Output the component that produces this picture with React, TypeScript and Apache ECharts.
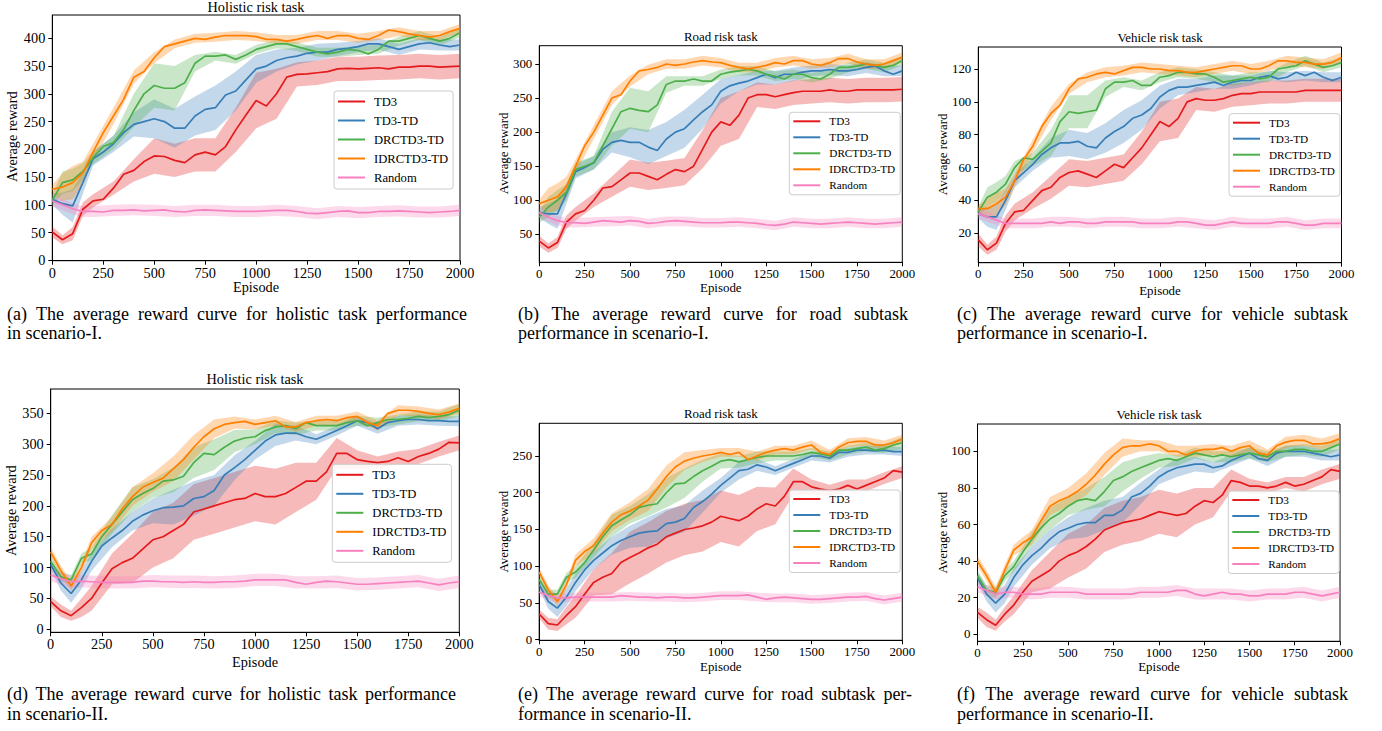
import React, { useEffect, useRef } from "react";
import * as echarts from "echarts";

const FONT = "'Liberation Serif', 'Times New Roman', serif";

const SERIES_NAMES = ["TD3", "TD3-TD", "DRCTD3-TD", "IDRCTD3-TD", "Random"];
const COLORS = ["#e41a1c", "#377eb8", "#4daf4a", "#ff7f00", "#f781bf"];

const EPISODES = [0, 50, 100, 150, 200, 250, 300, 350, 400, 450, 500, 550, 600, 650, 700, 750, 800, 850, 900, 950, 1000, 1050, 1100, 1150, 1200, 1250, 1300, 1350, 1400, 1450, 1500, 1550, 1600, 1650, 1700, 1750, 1800, 1850, 1900, 1950, 2000];
const BAND_EPISODES = [0, 50, 100, 150, 200, 300, 400, 500, 600, 700, 800, 900, 1000, 1100, 1200, 1300, 1400, 1500, 1600, 1700, 1800, 1900, 2000];
const X_TICKS = [0, 250, 500, 750, 1000, 1250, 1500, 1750, 2000];

// ---- (a) Holistic, scenario I
const A_Y_TICKS = [0, 50, 100, 150, 200, 250, 300, 350, 400];
const A_TD3 = [51, 37, 48, 92, 107, 110, 130, 155, 162, 178, 188, 187, 180, 176, 190, 195, 190, 205, 235, 262, 288, 278, 300, 330, 335, 336, 338, 340, 345, 346, 345, 346, 347, 345, 348, 348, 350, 350, 348, 349, 350];
const A_TD3_TD = [110, 102, 98, 140, 183, 195, 210, 230, 245, 250, 255, 250, 238, 238, 260, 272, 275, 298, 305, 325, 345, 350, 360, 365, 368, 373, 375, 375, 380, 382, 385, 390, 390, 385, 380, 385, 390, 392, 388, 385, 388];
const A_DRCTD3_TD = [108, 140, 145, 160, 185, 205, 212, 235, 270, 300, 315, 310, 310, 320, 355, 368, 368, 370, 362, 370, 380, 385, 390, 390, 385, 380, 375, 372, 375, 380, 378, 372, 380, 395, 395, 400, 405, 400, 395, 400, 410];
const A_IDRCTD3_TD = [128, 132, 140, 158, 195, 230, 260, 290, 330, 340, 365, 385, 390, 395, 400, 398, 402, 405, 405, 405, 403, 398, 398, 395, 398, 402, 405, 400, 405, 405, 400, 398, 405, 415, 412, 408, 405, 402, 405, 412, 418];
const A_RANDOM = [107, 100, 93, 88, 88, 87, 90, 90, 91, 89, 90, 91, 88, 87, 90, 91, 90, 89, 88, 88, 88, 89, 90, 90, 88, 85, 84, 86, 88, 89, 86, 86, 88, 88, 89, 88, 87, 86, 87, 88, 90];
const A_TD3_BAND = [10, 8, 12, 12, 12, 12, 20, 32, 30, 30, 30, 40, 50, 45, 22, 22, 22, 22, 22, 22, 22, 22, 22];
const A_TD3_TD_BAND = [10, 20, 30, 20, 12, 15, 22, 35, 35, 35, 40, 35, 25, 20, 15, 15, 12, 10, 10, 10, 10, 10, 10];
const A_DRCTD3_TD_BAND = [10, 20, 20, 15, 12, 12, 30, 40, 40, 15, 8, 8, 8, 8, 8, 8, 8, 8, 8, 8, 8, 8, 8];
const A_IDRCTD3_TD_BAND = [8, 25, 30, 20, 15, 15, 12, 10, 8, 8, 8, 8, 8, 8, 8, 8, 8, 8, 8, 8, 8, 8, 8];
const A_RANDOM_BAND = [10, 10, 10, 10, 10, 10, 10, 10, 10, 10, 10, 10, 10, 10, 10, 10, 10, 10, 10, 10, 10, 10, 10];

// ---- (b) Road, scenario I
const B_Y_TICKS = [50, 100, 150, 200, 250, 300];
const B_TD3 = [40, 30, 38, 68, 80, 85, 100, 118, 120, 130, 140, 140, 135, 130, 138, 145, 142, 150, 175, 200, 215, 210, 225, 250, 255, 255, 252, 255, 258, 260, 260, 260, 262, 260, 260, 262, 262, 262, 262, 262, 263];
const B_TD3_TD = [82, 80, 80, 110, 142, 148, 155, 175, 185, 188, 185, 185, 178, 173, 190, 200, 205, 218, 230, 240, 260, 268, 272, 275, 280, 285, 280, 285, 285, 288, 290, 290, 292, 290, 290, 292, 295, 297, 290, 285, 290];
const B_DRCTD3_TD = [75, 90, 100, 112, 145, 150, 155, 180, 205, 230, 235, 232, 230, 240, 270, 275, 275, 278, 275, 275, 285, 288, 290, 292, 290, 285, 282, 278, 285, 285, 280, 278, 285, 295, 295, 297, 300, 298, 295, 298, 305];
const B_IDRCTD3_TD = [95, 100, 105, 120, 150, 180, 200, 225, 250, 255, 275, 290, 292, 295, 300, 298, 300, 303, 305, 303, 302, 298, 295, 293, 295, 298, 302, 300, 305, 305, 300, 298, 302, 308, 308, 303, 300, 298, 300, 305, 310];
const B_RANDOM = [82, 75, 70, 67, 67, 66, 68, 70, 69, 68, 70, 69, 66, 67, 69, 70, 69, 68, 67, 67, 67, 68, 68, 67, 66, 64, 63, 65, 68, 67, 66, 65, 66, 67, 68, 67, 66, 65, 66, 67, 68];
const B_TD3_BAND = [8, 7, 8, 10, 10, 10, 15, 20, 20, 20, 20, 28, 35, 35, 18, 18, 18, 18, 18, 18, 18, 18, 18];
const B_TD3_TD_BAND = [8, 15, 22, 15, 10, 10, 15, 22, 25, 25, 28, 25, 18, 12, 10, 10, 10, 8, 8, 8, 8, 8, 8];
const B_DRCTD3_TD_BAND = [8, 15, 15, 12, 10, 10, 25, 30, 30, 12, 7, 7, 7, 7, 7, 7, 7, 7, 7, 7, 7, 7, 7];
const B_IDRCTD3_TD_BAND = [6, 18, 20, 15, 10, 10, 10, 8, 7, 7, 7, 7, 7, 7, 7, 7, 7, 7, 7, 7, 7, 7, 7];
const B_RANDOM_BAND = [7, 7, 7, 7, 7, 7, 7, 7, 7, 7, 7, 7, 7, 7, 7, 7, 7, 7, 7, 7, 7, 7, 7];

// ---- (c) Vehicle, scenario I
const C_Y_TICKS = [20, 40, 60, 80, 100, 120];
const C_TD3 = [16, 10, 14, 26, 33, 34, 40, 46, 48, 54, 57, 58, 56, 54, 58, 62, 60, 66, 72, 80, 88, 85, 90, 100, 102, 101, 101, 102, 104, 105, 105, 106, 106, 106, 106, 106, 107, 107, 107, 107, 107];
const C_TD3_TD = [32, 30, 30, 40, 52, 57, 62, 68, 72, 75, 75, 76, 73, 72, 78, 82, 85, 90, 92, 96, 103, 107, 109, 109, 110, 111, 112, 110, 112, 113, 113, 115, 116, 114, 115, 118, 116, 118, 115, 113, 115];
const C_DRCTD3_TD = [33, 42, 45, 50, 60, 66, 65, 70, 75, 88, 94, 93, 94, 95, 108, 112, 112, 113, 110, 110, 115, 116, 118, 118, 117, 117, 115, 112, 113, 114, 115, 114, 115, 120, 121, 122, 125, 123, 121, 122, 124];
const C_IDRCTD3_TD = [35, 35, 38, 42, 52, 65, 73, 85, 93, 98, 108, 114, 115, 117, 118, 117, 119, 121, 121, 120, 120, 119, 119, 118, 118, 119, 120, 121, 122, 122, 120, 120, 122, 125, 125, 124, 124, 123, 123, 124, 127];
const C_RANDOM = [32, 30, 28, 26, 26, 26, 26, 26, 27, 26, 27, 27, 26, 26, 27, 27, 27, 27, 26, 26, 26, 26, 27, 27, 26, 25, 25, 26, 27, 26, 26, 26, 26, 27, 27, 26, 25, 25, 26, 26, 26];
const C_TD3_BAND = [4, 3, 4, 5, 5, 5, 7, 8, 8, 8, 8, 10, 12, 12, 7, 7, 7, 7, 7, 7, 7, 7, 7];
const C_TD3_TD_BAND = [3, 6, 8, 6, 4, 4, 6, 8, 8, 9, 10, 9, 7, 5, 4, 4, 4, 3, 3, 3, 3, 3, 3];
const C_DRCTD3_TD_BAND = [3, 6, 6, 5, 4, 4, 8, 10, 10, 5, 3, 3, 3, 3, 3, 3, 3, 3, 3, 3, 3, 3, 3];
const C_IDRCTD3_TD_BAND = [2, 6, 7, 5, 4, 4, 4, 3, 3, 3, 3, 3, 3, 3, 3, 3, 3, 3, 3, 3, 3, 3, 3];
const C_RANDOM_BAND = [3, 3, 3, 3, 3, 3, 3, 3, 3, 3, 3, 3, 3, 3, 3, 3, 3, 3, 3, 3, 3, 3, 3];

// ---- (d) Holistic, scenario II
const D_Y_TICKS = [0, 50, 100, 150, 200, 250, 300, 350];
const D_TD3 = [45, 30, 22, 35, 50, 75, 98, 108, 115, 130, 145, 150, 160, 170, 190, 195, 200, 205, 210, 212, 220, 215, 215, 220, 230, 240, 240, 255, 285, 285, 275, 272, 270, 272, 278, 272, 280, 285, 292, 303, 302];
const D_TD3_TD = [105, 75, 58, 80, 110, 135, 148, 160, 175, 185, 192, 197, 198, 200, 212, 215, 225, 250, 262, 275, 290, 305, 315, 318, 318, 312, 308, 315, 322, 330, 338, 335, 325, 335, 338, 340, 340, 338, 338, 337, 337];
const D_DRCTD3_TD = [110, 85, 80, 115, 122, 150, 170, 190, 210, 220, 228, 240, 242, 248, 270, 285, 283, 295, 305, 310, 312, 322, 328, 330, 325, 335, 330, 330, 330, 335, 338, 330, 335, 340, 340, 342, 345, 343, 345, 348, 355];
const D_IDRCTD3_TD = [125, 95, 70, 100, 140, 160, 170, 195, 215, 230, 238, 245, 260, 275, 295, 312, 325, 332, 335, 337, 332, 335, 338, 328, 328, 335, 338, 340, 338, 343, 345, 335, 330, 350, 355, 355, 353, 350, 348, 352, 358];
const D_RANDOM = [88, 82, 77, 78, 77, 76, 76, 76, 76, 78, 78, 77, 77, 76, 77, 76, 76, 77, 77, 78, 80, 80, 80, 80, 76, 73, 76, 78, 77, 75, 73, 73, 74, 75, 76, 77, 78, 75, 72, 75, 77];
const D_TD3_BAND = [8, 10, 8, 15, 20, 25, 40, 45, 45, 45, 45, 45, 45, 45, 40, 30, 25, 15, 10, 10, 12, 12, 12];
const D_TD3_TD_BAND = [8, 12, 15, 15, 15, 15, 15, 20, 28, 28, 25, 20, 15, 18, 12, 8, 8, 8, 8, 8, 8, 8, 8];
const D_DRCTD3_TD_BAND = [8, 8, 8, 8, 10, 15, 20, 15, 20, 25, 25, 18, 12, 10, 10, 8, 8, 8, 8, 8, 8, 8, 10];
const D_IDRCTD3_TD_BAND = [8, 8, 8, 8, 10, 12, 15, 15, 20, 20, 15, 10, 8, 8, 8, 8, 8, 8, 8, 8, 8, 8, 8];
const D_RANDOM_BAND = [10, 10, 10, 10, 10, 10, 10, 10, 10, 10, 10, 10, 10, 10, 10, 10, 10, 10, 10, 10, 10, 10, 10];

// ---- (e) Road, scenario II
const E_Y_TICKS = [0, 50, 100, 150, 200, 250];
const E_TD3 = [35, 22, 20, 33, 45, 62, 78, 85, 90, 105, 112, 118, 125, 130, 140, 145, 150, 152, 155, 160, 168, 165, 162, 168, 178, 185, 182, 195, 215, 215, 208, 205, 203, 205, 210, 205, 210, 215, 220, 230, 228];
const E_TD3_TD = [75, 52, 43, 58, 78, 95, 108, 118, 128, 135, 140, 145, 147, 148, 158, 160, 165, 180, 188, 198, 210, 220, 230, 232, 238, 235, 230, 235, 240, 245, 250, 250, 247, 255, 255, 258, 258, 257, 258, 256, 256];
const E_DRCTD3_TD = [82, 62, 62, 85, 92, 105, 122, 140, 155, 163, 170, 180, 183, 185, 200, 212, 213, 222, 230, 236, 243, 245, 242, 245, 248, 250, 250, 250, 250, 252, 255, 253, 250, 258, 258, 260, 262, 258, 260, 265, 268];
const E_IDRCTD3_TD = [92, 68, 52, 75, 108, 120, 128, 145, 160, 170, 175, 182, 190, 205, 222, 235, 243, 247, 250, 252, 255, 252, 255, 245, 250, 255, 258, 260, 258, 262, 265, 255, 252, 262, 268, 270, 270, 265, 265, 268, 273];
const E_RANDOM = [65, 60, 57, 57, 58, 58, 58, 58, 58, 60, 59, 58, 58, 57, 58, 58, 57, 57, 58, 59, 60, 60, 60, 61, 58, 55, 57, 58, 57, 56, 55, 55, 56, 57, 58, 58, 59, 56, 54, 56, 58];
const E_TD3_BAND = [6, 8, 8, 12, 15, 18, 28, 35, 35, 35, 35, 35, 35, 35, 30, 25, 18, 10, 8, 8, 8, 8, 8];
const E_TD3_TD_BAND = [6, 10, 12, 12, 12, 12, 12, 15, 20, 20, 18, 15, 10, 12, 8, 6, 6, 6, 6, 6, 6, 6, 6];
const E_DRCTD3_TD_BAND = [6, 6, 6, 6, 8, 10, 15, 12, 15, 20, 20, 15, 10, 8, 8, 6, 6, 6, 6, 6, 6, 6, 8];
const E_IDRCTD3_TD_BAND = [6, 6, 6, 6, 8, 10, 12, 12, 15, 15, 12, 8, 6, 6, 6, 6, 6, 6, 6, 6, 6, 6, 6];
const E_RANDOM_BAND = [6, 6, 6, 6, 6, 6, 6, 6, 6, 6, 6, 6, 6, 6, 6, 6, 6, 6, 6, 6, 6, 6, 6];

// ---- (f) Vehicle, scenario II
const F_Y_TICKS = [0, 20, 40, 60, 80, 100];
const F_TD3 = [12, 8, 5, 11, 16, 23, 29, 32, 35, 40, 43, 45, 48, 52, 57, 59, 61, 62, 63, 65, 67, 66, 65, 66, 70, 73, 72, 76, 84, 83, 81, 81, 80, 81, 83, 81, 82, 84, 86, 90, 89];
const F_TD3_TD = [31, 22, 17, 22, 31, 38, 43, 47, 52, 56, 58, 60, 61, 61, 65, 65, 68, 75, 77, 81, 86, 89, 91, 92, 93, 93, 91, 92, 95, 97, 99, 96, 95, 99, 100, 100, 100, 99, 98, 97, 98];
const F_DRCTD3_TD = [32, 24, 23, 32, 37, 45, 52, 58, 63, 66, 70, 73, 74, 73, 78, 84, 86, 89, 91, 93, 95, 96, 95, 97, 99, 98, 97, 98, 97, 98, 99, 98, 97, 100, 100, 101, 101, 100, 100, 102, 104];
const F_IDRCTD3_TD = [40, 32, 23, 35, 46, 50, 53, 62, 70, 73, 75, 78, 82, 87, 93, 98, 102, 103, 103, 104, 103, 100, 100, 98, 100, 101, 101, 102, 100, 102, 103, 99, 98, 103, 105, 106, 106, 104, 104, 105, 107];
const F_RANDOM = [26, 24, 22, 23, 23, 22, 22, 22, 23, 23, 23, 23, 22, 22, 22, 22, 22, 22, 23, 23, 23, 23, 24, 24, 22, 21, 22, 23, 22, 22, 21, 21, 22, 22, 22, 23, 23, 22, 21, 22, 23];
const F_TD3_BAND = [3, 4, 3, 4, 5, 6, 10, 12, 12, 12, 12, 12, 12, 12, 10, 8, 6, 4, 3, 3, 4, 4, 4];
const F_TD3_TD_BAND = [3, 4, 5, 5, 5, 5, 5, 6, 8, 8, 7, 6, 4, 5, 4, 3, 3, 3, 3, 3, 3, 3, 3];
const F_DRCTD3_TD_BAND = [3, 3, 3, 3, 3, 4, 6, 5, 6, 8, 8, 6, 4, 3, 3, 3, 3, 3, 3, 3, 3, 3, 3];
const F_IDRCTD3_TD_BAND = [3, 3, 3, 3, 3, 4, 5, 5, 6, 6, 5, 3, 3, 3, 3, 3, 3, 3, 3, 3, 3, 3, 3];
const F_RANDOM_BAND = [3, 3, 3, 3, 3, 3, 3, 3, 3, 3, 3, 3, 3, 3, 3, 3, 3, 3, 3, 3, 3, 3, 3];

const CAPTIONS = [
  ["(a) The average reward curve for holistic task performance", "in scenario-I."],
  ["(b) The average reward curve for road subtask", "performance in scenario-I."],
  ["(c) The average reward curve for vehicle subtask", "performance in scenario-I."],
  ["(d) The average reward curve for holistic task performance", "in scenario-II."],
  ["(e) The average reward curve for road subtask per-", "formance in scenario-II."],
  ["(f) The average reward curve for vehicle subtask", "performance in scenario-II."],
];

const PANELS = [
  { title: "Holistic risk task", yTicks: A_Y_TICKS, lines: [A_TD3, A_TD3_TD, A_DRCTD3_TD, A_IDRCTD3_TD, A_RANDOM], bands: [A_TD3_BAND, A_TD3_TD_BAND, A_DRCTD3_TD_BAND, A_IDRCTD3_TD_BAND, A_RANDOM_BAND] },
  { title: "Road risk task", yTicks: B_Y_TICKS, lines: [B_TD3, B_TD3_TD, B_DRCTD3_TD, B_IDRCTD3_TD, B_RANDOM], bands: [B_TD3_BAND, B_TD3_TD_BAND, B_DRCTD3_TD_BAND, B_IDRCTD3_TD_BAND, B_RANDOM_BAND] },
  { title: "Vehicle risk task", yTicks: C_Y_TICKS, lines: [C_TD3, C_TD3_TD, C_DRCTD3_TD, C_IDRCTD3_TD, C_RANDOM], bands: [C_TD3_BAND, C_TD3_TD_BAND, C_DRCTD3_TD_BAND, C_IDRCTD3_TD_BAND, C_RANDOM_BAND] },
  { title: "Holistic risk task", yTicks: D_Y_TICKS, lines: [D_TD3, D_TD3_TD, D_DRCTD3_TD, D_IDRCTD3_TD, D_RANDOM], bands: [D_TD3_BAND, D_TD3_TD_BAND, D_DRCTD3_TD_BAND, D_IDRCTD3_TD_BAND, D_RANDOM_BAND] },
  { title: "Road risk task", yTicks: E_Y_TICKS, lines: [E_TD3, E_TD3_TD, E_DRCTD3_TD, E_IDRCTD3_TD, E_RANDOM], bands: [E_TD3_BAND, E_TD3_TD_BAND, E_DRCTD3_TD_BAND, E_IDRCTD3_TD_BAND, E_RANDOM_BAND] },
  { title: "Vehicle risk task", yTicks: F_Y_TICKS, lines: [F_TD3, F_TD3_TD, F_DRCTD3_TD, F_IDRCTD3_TD, F_RANDOM], bands: [F_TD3_BAND, F_TD3_TD_BAND, F_DRCTD3_TD_BAND, F_IDRCTD3_TD_BAND, F_RANDOM_BAND] },
];

// Layout (pixels) for each panel
const LAYOUT = [
  { left: 52.3, top: 15, right: 460, bottom: 260.7, yMin: -0.7, yMax: 442, title: [256, 7], yLab: [12.3, 136.7], xLab: [256, 287.3], legend: [334, 91], font: 14.3, lFont: 12.6, lLine: 12, lGap: 6, lPad: [4, 5, 5, 4], cap: [7, 467, 314, 333] },
  { left: 539.3, top: 45.7, right: 902.3, bottom: 262.3, yMin: 8.9, yMax: 326.9, title: [720.8, 37], yLab: [504, 153.3], xLab: [720.8, 288.3], legend: [789.3, 112.3], font: 12.9, lFont: 11.2, lLine: 11, lGap: 5, lPad: [3.5, 5, 4, 4], cap: [518, 908, 314, 333] },
  { left: 978.3, top: 47, right: 1341.5, bottom: 262.7, yMin: 2.1, yMax: 133.4, title: [1160, 37.7], yLab: [943.3, 154.3], xLab: [1160, 290.7], legend: [1229, 113.7], font: 12.9, lFont: 11.2, lLine: 11, lGap: 5, lPad: [3.5, 5, 4, 4], cap: [957, 1348, 314, 333] },
  { left: 50.7, top: 389, right: 459.3, bottom: 632.3, yMin: -4.9, yMax: 389.4, title: [255, 379], yLab: [11, 510.7], xLab: [255, 661.7], legend: [332.3, 464.3], font: 14.3, lFont: 12.6, lLine: 12, lGap: 6, lPad: [4, 5, 5, 4], cap: [7, 456, 694, 714] },
  { left: 539.2, top: 423.3, right: 902.3, bottom: 640.3, yMin: -0.8, yMax: 294.5, title: [720.8, 414], yLab: [504, 531.7], xLab: [720.8, 666.7], legend: [789.3, 490], font: 12.9, lFont: 11.2, lLine: 11, lGap: 5, lPad: [3.5, 5, 4, 4], cap: [518, 912, 694, 714] },
  { left: 977.5, top: 424, right: 1340, bottom: 641.3, yMin: -3.8, yMax: 114.9, title: [1159, 415], yLab: [943.3, 532.7], xLab: [1159, 666.7], legend: [1228.3, 491], font: 12.9, lFont: 11.2, lLine: 11, lGap: 5, lPad: [3.5, 5, 4, 4], cap: [957, 1348, 694, 714] },
];

const CAPTION_FONT_SIZE = 18;

function rgba(hex: string, a: number) {
  const n = parseInt(hex.slice(1), 16);
  return `rgba(${(n >> 16) & 255},${(n >> 8) & 255},${n & 255},${a})`;
}

function textEl(text: string, x: number, y: number, size: number, align = "center", rotation = 0) {
  return {
    type: "text",
    x,
    y,
    rotation,
    silent: true,
    z: 10,
    style: {
      text,
      fill: "#000",
      fontSize: size,
      fontFamily: FONT,
      align,
      verticalAlign: "middle",
      textAlign: align,
      textVerticalAlign: "middle",
    },
  };
}

export default function App() {
  const ref = useRef<HTMLDivElement>(null);

  useEffect(() => {
    if (!ref.current) return;
    const chart = echarts.init(ref.current, null, { renderer: "svg" });
    const ctx = document.createElement("canvas").getContext("2d")!;
    ctx.font = `${CAPTION_FONT_SIZE}px ${FONT}`;

    const grid: any[] = [];
    const xAxis: any[] = [];
    const yAxis: any[] = [];
    const series: any[] = [];
    const legend: any[] = [];
    const graphic: any[] = [];

    PANELS.forEach((p, i) => {
      const L = LAYOUT[i];
      grid.push({
        left: L.left,
        top: L.top,
        width: L.right - L.left,
        height: L.bottom - L.top,
        show: true,
        borderColor: "#000",
        borderWidth: 1,
        backgroundColor: "transparent",
      });
      xAxis.push({
        type: "value",
        gridIndex: i,
        min: 0,
        max: 2000,
        axisLine: { show: true, onZero: false, lineStyle: { color: "#000", width: 1 } },
        axisTick: { show: true, length: 4, lineStyle: { color: "#000" }, customValues: X_TICKS },
        axisLabel: { customValues: X_TICKS, color: "#000", fontFamily: FONT, fontSize: L.font, margin: 5, formatter: (v: number) => String(v) },
        splitLine: { show: false },
      });
      yAxis.push({
        type: "value",
        gridIndex: i,
        min: L.yMin,
        max: L.yMax,
        axisLine: { show: true, onZero: false, lineStyle: { color: "#000", width: 1 } },
        axisTick: { show: true, length: 4, lineStyle: { color: "#000" }, customValues: p.yTicks },
        axisLabel: { customValues: p.yTicks, color: "#000", fontFamily: FONT, fontSize: L.font, margin: 7, formatter: (v: number) => String(v) },
        splitLine: { show: false },
      });

      p.lines.forEach((vals, k) => {
        const hw = p.bands[k];
        series.push({
          type: "custom",
          name: `band-${i}-${k}`,
          xAxisIndex: i,
          yAxisIndex: i,
          silent: true,
          clip: true,
          z: 1,
          data: [[1000, p.yTicks[1]]],
          renderItem: (_params: any, api: any) => {
            const up = BAND_EPISODES.map((x, j) => api.coord([x, vals[EPISODES.indexOf(x)] + hw[j]]));
            const lo = BAND_EPISODES.map((x, j) => api.coord([x, vals[EPISODES.indexOf(x)] - hw[j]])).reverse();
            return {
              type: "polygon",
              shape: { points: up.concat(lo) },
              style: { fill: rgba(COLORS[k], 0.3), stroke: "none" },
            };
          },
        });
      });
      p.lines.forEach((vals, k) => {
        series.push({
          type: "line",
          name: SERIES_NAMES[k],
          xAxisIndex: i,
          yAxisIndex: i,
          data: EPISODES.map((x, j) => [x, vals[j]]),
          showSymbol: false,
          symbol: "none",
          silent: true,
          z: 3,
          itemStyle: { color: COLORS[k] },
          lineStyle: { color: COLORS[k], width: 1.7 },
        });
      });

      legend.push({
        orient: "vertical",
        left: L.legend[0],
        top: L.legend[1],
        data: SERIES_NAMES,
        icon: "rect",
        itemWidth: 27,
        itemHeight: 2,
        itemGap: L.lGap,
        padding: L.lPad,
        backgroundColor: "rgba(255,255,255,0.85)",
        borderColor: "#cccccc",
        borderWidth: 1,
        borderRadius: 3,
        selectedMode: false,
        z: 20,
        textStyle: {
          fontFamily: FONT,
          fontSize: L.lFont,
          color: "#000",
          lineHeight: L.lLine,
          padding: [0, 0, 0, 4],
        },
      });

      graphic.push(textEl(p.title, L.title[0], L.title[1], L.font));
      graphic.push(textEl("Average reward", L.yLab[0], L.yLab[1], L.font, "center", Math.PI / 2));
      graphic.push(textEl("Episode", L.xLab[0], L.xLab[1], L.font));

      // captions: first line justified, second line left aligned
      const [line1, line2] = CAPTIONS[i];
      const words = line1.split(" ");
      const widths = words.map((w) => ctx.measureText(w).width);
      const total = widths.reduce((s, w) => s + w, 0);
      const gap = (L.cap[1] - L.cap[0] - total) / (words.length - 1);
      let cx = L.cap[0];
      words.forEach((w, j) => {
        graphic.push(textEl(w, cx, L.cap[2], CAPTION_FONT_SIZE, "left"));
        cx += widths[j] + gap;
      });
      graphic.push(textEl(line2, L.cap[0], L.cap[3], CAPTION_FONT_SIZE, "left"));
    });

    chart.setOption({
      animation: false,
      backgroundColor: "#fff",
      grid,
      xAxis,
      yAxis,
      series,
      legend,
      graphic,
    });

    return () => chart.dispose();
  }, []);

  return <div ref={ref} style={{ position: "absolute", left: 0, top: 0, width: 1382, height: 731 }} />;
}
